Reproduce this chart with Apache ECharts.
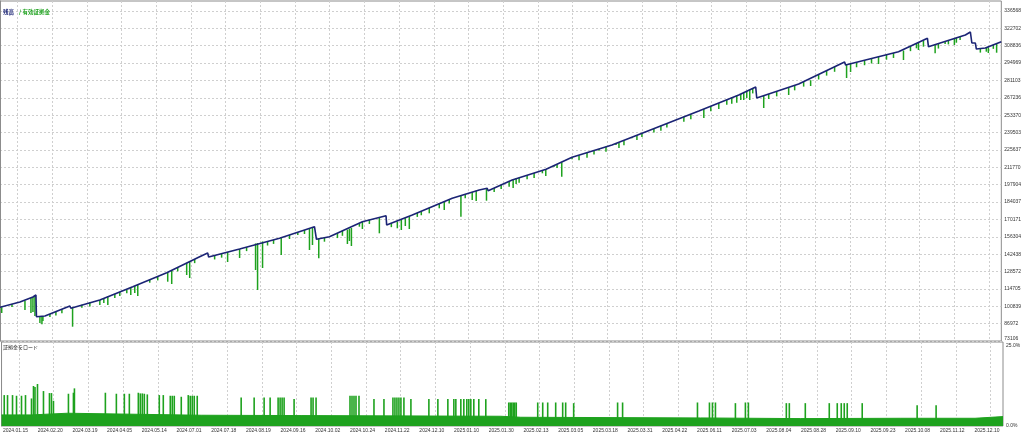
<!DOCTYPE html>
<html><head><meta charset="utf-8">
<script src="https://cdn.jsdelivr.net/npm/echarts@6/dist/echarts.min.js"></script>
<style>html,body{margin:0;padding:0;background:#fff;}#c{width:1024px;height:434px;}</style>
</head><body><div id="c"></div><script>
// x axis unit: deal sequence index across the test
const dateLabels = ['2024.01.15','2024.02.20','2024.03.19','2024.04.05','2024.05.14','2024.07.01','2024.07.18','2024.08.19','2024.09.16','2024.10.02','2024.10.24','2024.11.22','2024.12.10','2025.01.10','2025.01.30','2025.02.13','2025.03.05','2025.03.18','2025.03.31','2025.04.22','2025.06.11','2025.07.03','2025.08.04','2025.08.28','2025.09.10','2025.09.23','2025.10.08','2025.11.12','2025.12.10'];
const yTicks = [73106,86972,100839,114705,128572,142438,156304,170171,184037,197904,211770,225637,239503,253370,267236,281103,294969,308836,322702,336568];
const loadTicks = [0, 25];

const balance = [[0,100000],[20,104240],[33,108230],[36,109830],[36.5,92500],[45,93060],[70,101050],[71,99210],[100,105840],[133,116450],[167,127630],[200,140400],[208,143360],[209,140160],[240,146550],[280,155090],[315,164350],[317,154290],[330,156370],[363,168340],[386.7,173130],[387.3,165710],[413,173690],[453,187020],[480,193650],[488,195010],[489,193090],[513,201630],[547,210170],[573,219750],[613,229570],[647,240190],[677,249530],[700,256720],[740,269490],[757,275870],[758,267090],[800,278270],[846,295830],[847,293440],[900,304060],[929,314760],[930,308050],[967,317390],[972,319780],[973.5,311000],[977,311000],[978,306210],[987,307010],[1003,312040]];

// equity dips: [x, equity at start of dip, equity low]
const equityDips = [[1.7,100100,95460],[12,102540,100150],[25,105200,97850],[31,107500,95460],[33,108200,96260],[35,109300,93060],[40,92700,87480],[42,92900,86440],[43,93000,89070],[50,94660,92270],[56,96580,93390],[62,98500,95310],[72.7,99400,84520],[82,101950,99560],[90,103780,100590],[100,105800,101850],[104,107000,103440],[108,108400,101850],[115,110670,107480],[120,112280,109090],[127,114500,111190],[131,115800,109830],[135,117000,111420],[138,118000,109030],[150,122030,119640],[158,124680,121490],[168,128000,120450],[172,129500,118610],[178,131890,128700],[187,135500,125790],[190,136700,123400],[195,138460,135270],[215,141400,138210],[222,142840,139650],[228,144150,136170],[240,146550,139370],[247,148050,144860],[256,150980,129790],[258,151300,113820],[263,152600,131380],[268,152520,149330],[274,153810,150620],[281.7,155300,141760],[290,157740,154550],[298.3,159800,157730],[305,161700,158510],[310,163000,145750],[313,163800,149740],[319.3,154800,139130],[325,155570,152380],[338,159270,155280],[343,161080,157090],[348,162000,150540],[350,162800,152940],[352,163300,148950],[360,167000,164350],[363,168300,162520],[370,169750,166560],[380,171500,159080],[392,167190,164000],[398,168500,163080],[402,170000,161720],[406,171200,164910],[410,172500,162520],[418,175360,172170],[422,176690,173500],[430,179500,175050],[440,183000,179040],[445,184500,177680],[450,186020,182830],[461.7,189300,172340],[466,190210,187020],[473,192000,185670],[477,193000,184870],[487.3,194800,185110],[495,195220,192030],[502,197720,194530],[510,200800,196280],[514,202000,195250],[517,203000,198440],[520,203390,199400],[528,205400,202200],[535,207200,203200],[543.3,209200,206980],[546.7,210100,204830],[555,213300,212250],[558,214200,211210],[562.7,215900,204270],[573,219750,218160],[580,221470,217500],[588,223430,219440],[595,225150,222000],[600,226400,225020],[607,228100,224100],[617,230600,229570],[620,231500,227180],[625,233310,229320],[633,235700,234920],[638,237300,233560],[643,238900,235960],[655,242680,239490],[662,244860,240870],[668,246730,243540],[685,252030,248040],[692,254220,250230],[705,258300,251130],[712,260550,256560],[720,263100,258310],[728,265660,261670],[733,267260,262470],[738,268850,263260],[742,270240,265450],[745,271300,265500],[748,272600,267090],[751,273800,265500],[754,274750,270760],[765,269200,259110],[770,270280,266290],[778,272410,268420],[790,275700,269490],[796,277200,273210],[805,280180,276190],[812,281300,276670],[820,285900,281910],[828,288960,284970],[836,292010,288020],[848,293900,283060],[852,294900,287850],[858,295640,291650],[866,297250,293260],[873,298650,294660],[880,300200,294240],[888,301660,297670],[895,303060,299070],[905,305000,297430],[912,308490,304500],[918,310700,306770],[920,311300,305410],[925,313000,308050],[936.7,309800,302780],[940,310570,306580],[946.7,312300,310200],[950,313090,309900],[956,314600,309400],[958,315100,311240],[961.7,316000,313390],[982,306530,303340],[988,307300,304060],[990,307600,303020],[995,309530,306340],[998.3,310600,303260]];

const loadBase = [[0,3.3],[30,3.3],[31,3.8],[66,3.8],[67,3.3],[200,3.2],[300,3.1],[500,2.9],[520,2.6],[700,2.4],[800,2.2],[900,2.3],[975,2.3],[976,2.8],[1003,2.8]];
const loadSpikes = [[2.7,9.2],[6,9.2],[11,9.2],[15,9.0],[20,9.0],[24,9.2],[30,8.2],[32,11.9],[33.5,11.6],[36,12.5],[42,10.4],[48,9.8],[50,9.8],[52,7.5],[67,9.6],[72,9.9],[73,11.2],[104,9.9],[115,9.6],[123,9.6],[128,9.6],[137,9.9],[139,9.7],[141,9.7],[143,9.6],[146,9.4],[158,9.2],[162,9.2],[169,9.0],[171,9.0],[173,9.0],[180,8.7],[187,9.2],[189,9.0],[191,9.0],[193,9.0],[196,9.0],[240,8.5],[253,8.5],[263,8.5],[269,8.5],[277,8.5],[279,8.5],[281,8.5],[283,8.5],[293,8.0],[310,8.5],[312,8.5],[315,8.5],[349,9.0],[351,9.0],[353,9.0],[355,9.0],[358,9.0],[373,8.0],[383,8.0],[392,8.5],[394,8.5],[396,8.5],[398,8.5],[400,8.5],[403,8.5],[410,8.0],[428,8.0],[437,8.0],[447,8.0],[453,8.0],[455,8.0],[460,8.0],[463,8.0],[466,8.0],[468,8.0],[470,8.0],[473,8.0],[478,8.0],[485,8.0],[508,7.0],[509.5,7.0],[511,7.0],[512.5,7.0],[514,7.0],[515.5,7.0],[537,7.0],[542,7.0],[547,7.0],[555,7.0],[562,7.0],[565,7.0],[573,6.8],[617,7.0],[622,7.0],[697,7.0],[709,7.0],[712,7.0],[715,7.0],[735,6.8],[745,7.0],[748,7.0],[786,6.8],[789,6.8],[805,6.8],[829,6.8],[837,6.8],[841,6.8],[844,6.8],[847,6.8],[862,6.8],[917,6.2],[936,6.2]];

const X_MAX = 1003;
const xTickPos = dateLabels.map((d, i) => 17.5 + 34.75 * i);
const labelFor = v => { const i = xTickPos.findIndex(p => Math.abs(p - v) < 0.01); return i >= 0 ? dateLabels[i] : ''; };

const GRID_LINE = { show: true, lineStyle: { color: '#cfcfcf', type: [2, 2], width: 1 } };
const NUM_FONT = 'Liberation Sans, Arial, sans-serif';
const JP_FONT = '"Noto Sans CJK JP", sans-serif';
const green = '#1ea21e';
const navy = '#1b2475';

const chart = echarts.init(document.getElementById('c'), null, { renderer: 'canvas' });
chart.setOption({
  animation: false,
  backgroundColor: '#ffffff',
  title: [
    { text: '{a|残高} {b|/ 有効証拠金}', left: 3, top: 3, padding: 0,
      textStyle: { rich: { a: { color: navy, fontSize: 5.5, fontFamily: JP_FONT, fontWeight: 'bold' }, b: { color: green, fontSize: 5.5, fontFamily: JP_FONT } } } },
    { text: '証拠金をロード', left: 3, top: 345, padding: 0,
      textStyle: { color: '#222', fontSize: 5, fontFamily: JP_FONT, fontWeight: 'normal' } }
  ],
  grid: [
    { left: 0, top: 1, width: 1003, height: 340, show: true, borderColor: '#8c8c8c', borderWidth: 1 },
    { left: 0, top: 342, width: 1003, height: 84, show: true, borderColor: '#8c8c8c', borderWidth: 1 }
  ],
  xAxis: [
    { type: 'value', gridIndex: 0, min: 0, max: X_MAX,
      axisLine: { show: false }, axisTick: { show: false, customValues: xTickPos },
      axisLabel: { show: false, customValues: xTickPos }, splitLine: GRID_LINE },
    { type: 'value', gridIndex: 1, min: 0, max: X_MAX,
      axisLine: { show: false }, axisTick: { show: false, customValues: xTickPos },
      axisLabel: { show: true, customValues: xTickPos, formatter: labelFor, fontSize: 5, fontFamily: NUM_FONT, color: '#333', margin: 2, padding: [0, 7, 0, 0] },
      splitLine: GRID_LINE }
  ],
  yAxis: [
    { type: 'value', gridIndex: 0, position: 'right', min: 73106, max: 344535,
      axisLine: { show: true, lineStyle: { color: '#8c8c8c' } },
      axisTick: { show: false, customValues: yTicks },
      axisLabel: { customValues: yTicks, fontSize: 5, fontFamily: NUM_FONT, color: '#333', margin: 3,
        formatter: v => v === yTicks[0] ? '{lo|' + v + '}' : String(v),
        rich: { lo: { fontSize: 5, fontFamily: NUM_FONT, color: '#333', padding: [0, 0, 4, 0] } } },
      splitLine: GRID_LINE },
    { type: 'value', gridIndex: 1, position: 'right', min: 0, max: 25,
      axisLine: { show: true, lineStyle: { color: '#8c8c8c' } },
      axisTick: { show: false, customValues: loadTicks },
      axisLabel: { customValues: loadTicks, fontSize: 5, fontFamily: NUM_FONT, color: '#333', margin: 3,
        formatter: v => v === 25 ? '{hi|25.0%}' : v.toFixed(1) + '%',
        rich: { hi: { fontSize: 5, fontFamily: NUM_FONT, color: '#333', padding: [8, 0, 0, 0] } } },
      splitLine: { show: false } }
  ],
  series: [
    { name: 'equity', type: 'custom', xAxisIndex: 0, yAxisIndex: 0, data: equityDips, z: 3,
      encode: { x: 0, y: [1, 2] },
      renderItem: (params, api) => {
        const p1 = api.coord([api.value(0), api.value(1)]);
        const p2 = api.coord([api.value(0), api.value(2)]);
        return { type: 'line', shape: { x1: p1[0], y1: p1[1], x2: p2[0], y2: p2[1] }, style: { stroke: green, lineWidth: 1.5 } };
      } },
    { name: 'balance', type: 'line', xAxisIndex: 0, yAxisIndex: 0, data: balance, showSymbol: false, z: 5,
      lineStyle: { color: navy, width: 1.6 } },
    { name: 'loadBase', type: 'line', xAxisIndex: 1, yAxisIndex: 1, data: loadBase, showSymbol: false,
      lineStyle: { color: green, width: 1 }, areaStyle: { color: green, opacity: 1 } },
    { name: 'loadSpikes', type: 'bar', xAxisIndex: 1, yAxisIndex: 1, data: loadSpikes, barWidth: 1.6,
      itemStyle: { color: green } }
  ]
});
</script></body></html>
